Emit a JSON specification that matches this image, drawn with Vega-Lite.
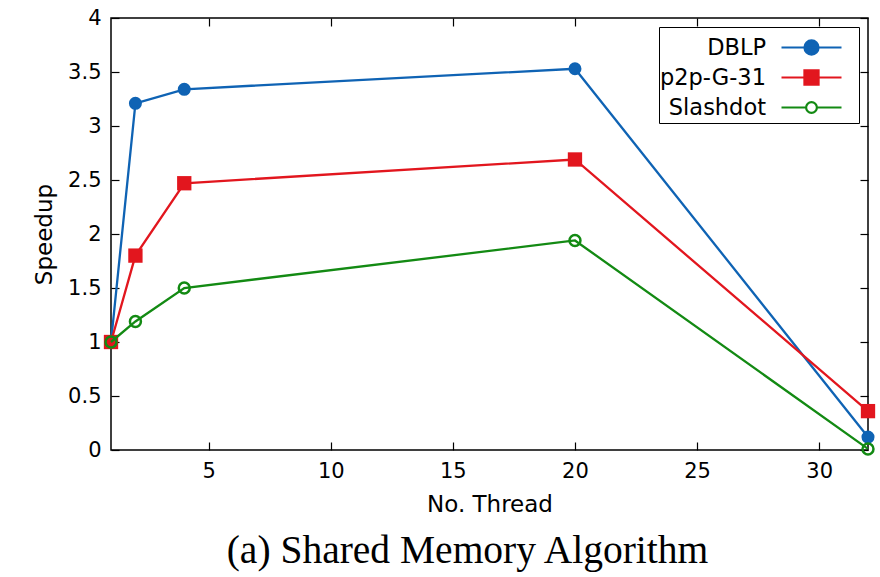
{
  "$schema": "https://vega.github.io/schema/vega-lite/v6.json",
  "width": 757,
  "height": 432,
  "autosize": {"type": "none"},
  "padding": {"left": 111, "top": 18, "right": 12, "bottom": 127},
  "background": "white",
  "config": {
    "font": "DejaVu Sans",
    "view": {"stroke": "black", "strokeWidth": 1.5},
    "axis": {"grid": false, "domain": false, "tickColor": "black", "tickWidth": 1.2, "tickSize": -8,
             "labelFontSize": 21, "labelColor": "black", "titleFontSize": 23, "titleColor": "black", "titleFontWeight": "normal"}
  },
  "title": {"text": "(a) Shared Memory Algorithm", "orient": "bottom", "anchor": "middle", "font": "Liberation Serif",
            "fontSize": 39.5, "fontWeight": "normal", "color": "black", "offset": 16, "dx": -22},
  "data": {"values": [
    {"series": "DBLP", "threads": 1, "speedup": 1.0},
    {"series": "DBLP", "threads": 2, "speedup": 3.21},
    {"series": "DBLP", "threads": 4, "speedup": 3.34},
    {"series": "DBLP", "threads": 20, "speedup": 3.53},
    {"series": "DBLP", "threads": 32, "speedup": 0.12},
    {"series": "p2p-G-31", "threads": 1, "speedup": 1.0},
    {"series": "p2p-G-31", "threads": 2, "speedup": 1.80},
    {"series": "p2p-G-31", "threads": 4, "speedup": 2.47},
    {"series": "p2p-G-31", "threads": 20, "speedup": 2.69},
    {"series": "p2p-G-31", "threads": 32, "speedup": 0.36},
    {"series": "Slashdot", "threads": 1, "speedup": 1.0},
    {"series": "Slashdot", "threads": 2, "speedup": 1.19},
    {"series": "Slashdot", "threads": 4, "speedup": 1.50},
    {"series": "Slashdot", "threads": 20, "speedup": 1.94},
    {"series": "Slashdot", "threads": 32, "speedup": 0.01}
  ]},
  "resolve": {"axis": {"x": "independent", "y": "independent"}},
  "layer": [
    {
      "transform": [{"filter": "datum.series === 'DBLP'"}],
      "mark": {"type": "line", "color": "#0f63b4", "strokeWidth": 2.3},
      "encoding": {
        "x": {"field": "threads", "type": "quantitative", "scale": {"domain": [1, 32], "nice": false, "zero": false},
              "axis": {"orient": "bottom", "values": [5, 10, 15, 20, 25, 30], "title": "No. Thread", "labelPadding": 18, "titlePadding": 12}},
        "y": {"field": "speedup", "type": "quantitative", "scale": {"domain": [0, 4], "nice": false},
              "axis": {"orient": "left", "values": [0, 0.5, 1, 1.5, 2, 2.5, 3, 3.5, 4], "format": "~g", "title": "Speedup", "labelPadding": 18, "titlePadding": 11}}
      }
    },
    {
      "transform": [{"filter": "datum.series === 'DBLP'"}],
      "mark": {"type": "point", "shape": "circle", "filled": true, "color": "#0f63b4", "size": 170, "opacity": 1},
      "encoding": {
        "x": {"field": "threads", "type": "quantitative", "axis": null},
        "y": {"field": "speedup", "type": "quantitative", "axis": null}
      }
    },
    {
      "transform": [{"filter": "datum.series === 'p2p-G-31'"}],
      "mark": {"type": "line", "color": "#e2161e", "strokeWidth": 2.3},
      "encoding": {
        "x": {"field": "threads", "type": "quantitative", "axis": null},
        "y": {"field": "speedup", "type": "quantitative", "axis": null}
      }
    },
    {
      "transform": [{"filter": "datum.series === 'p2p-G-31'"}],
      "mark": {"type": "point", "shape": "square", "filled": true, "color": "#e2161e", "size": 205, "opacity": 1},
      "encoding": {
        "x": {"field": "threads", "type": "quantitative", "axis": null},
        "y": {"field": "speedup", "type": "quantitative", "axis": null}
      }
    },
    {
      "transform": [{"filter": "datum.series === 'Slashdot'"}],
      "mark": {"type": "line", "color": "#138a13", "strokeWidth": 2.3},
      "encoding": {
        "x": {"field": "threads", "type": "quantitative", "axis": null},
        "y": {"field": "speedup", "type": "quantitative", "axis": null}
      }
    },
    {
      "transform": [{"filter": "datum.series === 'Slashdot'"}],
      "mark": {"type": "point", "shape": "circle", "filled": false, "color": "#138a13", "size": 120, "strokeWidth": 2.5, "opacity": 1},
      "encoding": {
        "x": {"field": "threads", "type": "quantitative", "axis": null},
        "y": {"field": "speedup", "type": "quantitative", "axis": null}
      }
    },
    {
      "transform": [{"filter": "datum.threads < 0"}],
      "mark": {"type": "point", "opacity": 1, "strokeWidth": 2},
      "encoding": {
        "x": {"field": "threads", "type": "quantitative",
              "axis": {"orient": "top", "values": [5, 10, 15, 20, 25, 30], "labels": false, "title": null}},
        "y": {"field": "speedup", "type": "quantitative",
              "axis": {"orient": "right", "values": [0, 0.5, 1, 1.5, 2, 2.5, 3, 3.5, 4], "labels": false, "title": null}},
        "shape": {"field": "series", "type": "nominal",
                  "scale": {"domain": ["DBLP", "p2p-G-31", "Slashdot"],
                            "range": ["M-2,0H2M-0.47,0A0.47,0.47,0,1,1,0.47,0A0.47,0.47,0,1,1,-0.47,0ZM2.55,0",
                                      "M-2,0H2M-0.47,-0.47H0.47V0.47H-0.47ZM2.55,0",
                                      "M-2,0H-0.36M0.36,0H2M-0.36,0A0.36,0.36,0,1,1,0.36,0A0.36,0.36,0,1,1,-0.36,0ZM2.55,0"]},
                  "legend": {"title": null, "orient": "top-right", "offset": 9, "padding": 4,
                             "strokeColor": "black", "fillColor": "white",
                             "symbolSize": 900, "symbolStrokeWidth": 2.2,
                             "labelFontSize": 22.5, "labelColor": "black", "labelAlign": "right",
                             "labelOffset": -62, "symbolOffset": 132, "rowPadding": 2, "labelLimit": 0}},
        "fill": {"field": "series", "type": "nominal",
                 "scale": {"domain": ["DBLP", "p2p-G-31", "Slashdot"], "range": ["#0f63b4", "#e2161e", "#ffffff"]}},
        "stroke": {"field": "series", "type": "nominal",
                   "scale": {"domain": ["DBLP", "p2p-G-31", "Slashdot"], "range": ["#0f63b4", "#e2161e", "#138a13"]}}
      }
    }
  ]
}
